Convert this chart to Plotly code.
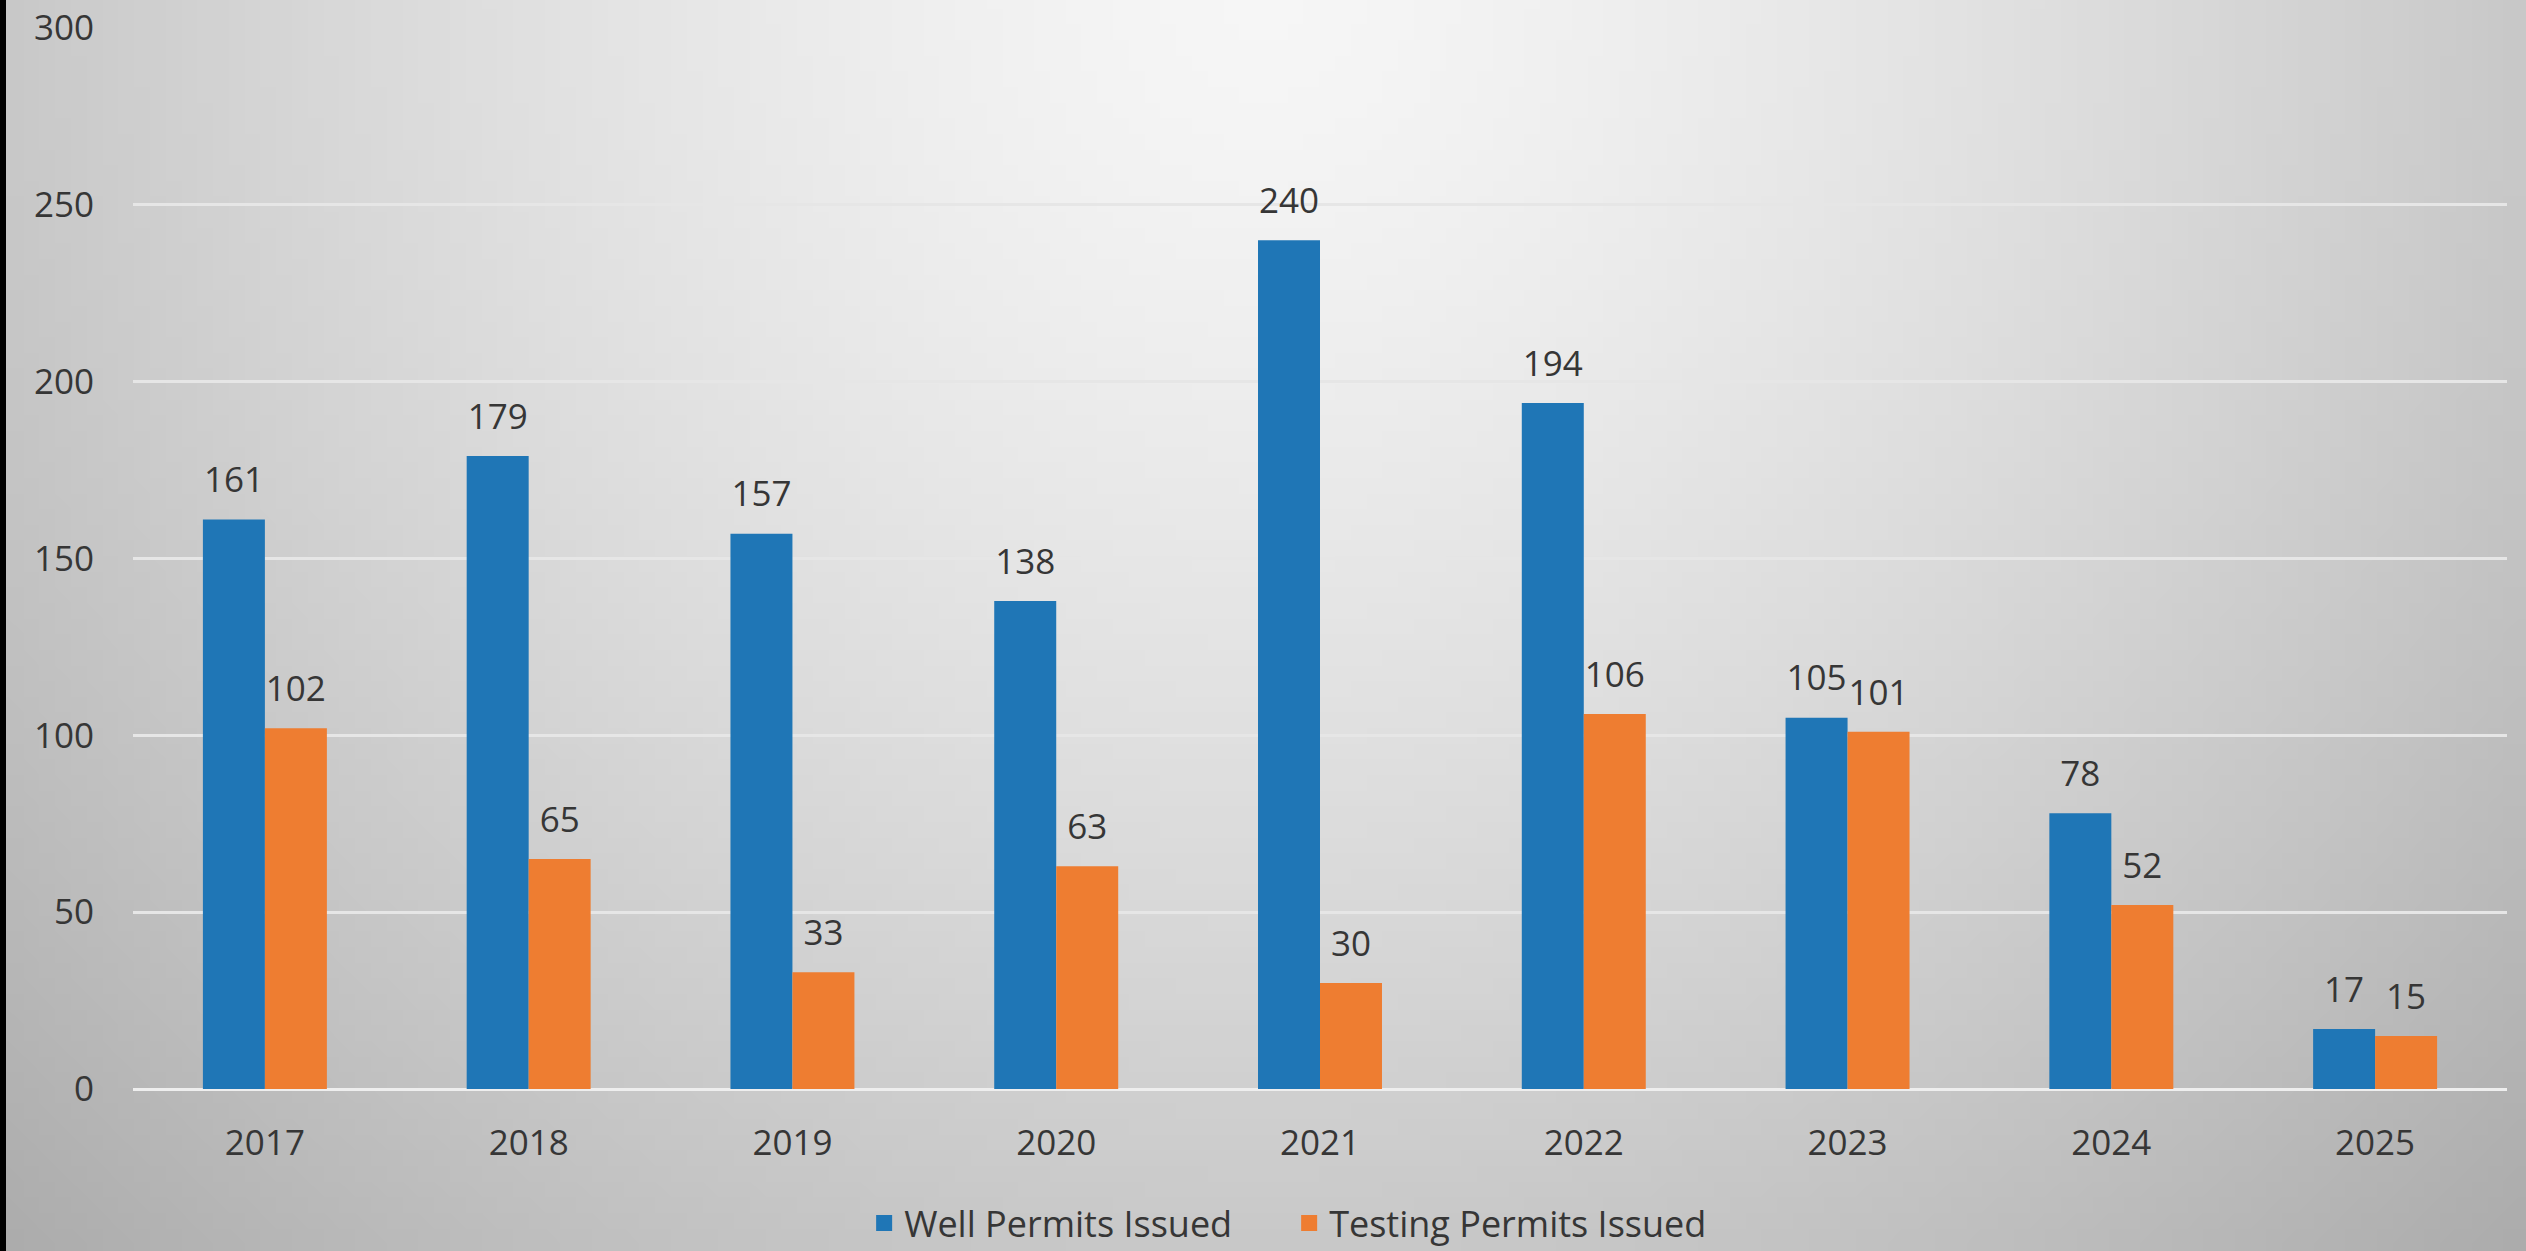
import base64
import struct
import zlib

import plotly.graph_objects as go

# ---------------- data ----------------
years = ["2017", "2018", "2019", "2020", "2021", "2022", "2023", "2024", "2025"]
well_permits = [161, 179, 157, 138, 240, 194, 105, 78, 17]
testing_permits = [102, 65, 33, 63, 30, 106, 101, 52, 15]
series_names = ["Well Permits Issued", "Testing Permits Issued"]
y_ticks = [0, 50, 100, 150, 200, 250, 300]

# ---------------- style ----------------
W, H = 2526, 1251
ML, MR, MT, MB = 133, 19, 28, 162
PW, PH = W - ML - MR, H - MT - MB
BLUE = "#1f76b6"
ORANGE = "#ee7d31"
FONT = "Open Sans"
TXT = "#363636"


def gradient_png(w=160, h=80):
    """Radial-ish grey background (decoration only)."""
    rows = []
    for j in range(h):
        fy = (j + 0.5) / h
        row = bytearray([0])
        for i in range(w):
            fx = (i + 0.5) / w
            d = (((fx - 0.5) / 0.5) ** 2 + (fy / 1.0) ** 2) ** 0.5
            v = 246 - 46 * d ** 1.4
            v = int(max(0, min(255, round(v))))
            row.append(v)
        rows.append(bytes(row))
    raw = b"".join(rows)

    def chunk(t, data):
        c = struct.pack(">I", len(data)) + t + data
        return c + struct.pack(">I", zlib.crc32(t + data) & 0xFFFFFFFF)

    png = b"\x89PNG\r\n\x1a\n"
    png += chunk(b"IHDR", struct.pack(">IIBBBBB", w, h, 8, 0, 0, 0, 0))
    png += chunk(b"IDAT", zlib.compress(raw, 9))
    png += chunk(b"IEND", b"")
    return "data:image/png;base64," + base64.b64encode(png).decode()


fig = go.Figure()

for name, vals, col in [(series_names[0], well_permits, BLUE),
                        (series_names[1], testing_permits, ORANGE)]:
    fig.add_trace(go.Bar(
        x=years, y=vals, name=name, marker=dict(color=col, line=dict(width=0)),
        offsetgroup=name, showlegend=False, hoverinfo="x+y",
    ))

# data labels, grouped the same way as the bars
for name, vals in [(series_names[0], well_permits),
                   (series_names[1], testing_permits)]:
    fig.add_trace(go.Scatter(
        x=years, y=vals, mode="markers+text", text=[str(v) for v in vals],
        textposition="top center", offsetgroup=name,
        textfont=dict(family=FONT, size=35, color=TXT),
        marker=dict(size=28, opacity=0), showlegend=False, hoverinfo="skip",
        cliponaxis=False,
    ))

# legend entries
for name, col in [(series_names[0], BLUE), (series_names[1], ORANGE)]:
    fig.add_trace(go.Scatter(
        x=[None], y=[None], mode="markers", name=name,
        marker=dict(symbol="square", size=16, color=col), showlegend=True,
    ))

fig.update_layout(
    width=W, height=H,
    margin=dict(l=ML, r=MR, t=MT, b=MB, pad=0, autoexpand=False),
    paper_bgcolor="#c8c8c8",
    plot_bgcolor="rgba(0,0,0,0)",
    barmode="group", bargap=0.53, bargroupgap=0,
    scattermode="group", scattergap=0.53,
    font=dict(family=FONT, size=35, color=TXT),
    showlegend=True,
    legend=dict(orientation="h", x=0.487, xanchor="center",
                yref="container", y=1 - 1223 / H, yanchor="middle",
                font=dict(family=FONT, size=36, color=TXT),
                bgcolor="rgba(0,0,0,0)", itemsizing="trace",
                entrywidth=380, entrywidthmode="pixels"),
    images=[dict(source=gradient_png(), xref="paper", yref="paper",
                 x=-ML / PW, y=1 + MT / PH, sizex=W / PW, sizey=H / PH,
                 xanchor="left", yanchor="top", sizing="stretch",
                 layer="below")],
    shapes=[dict(type="rect", xref="paper", yref="paper",
                 x0=-ML / PW, x1=(-ML + 6) / PW, y0=-MB / PH, y1=1 + MT / PH,
                 fillcolor="#000000", line=dict(width=0), layer="above")],
)

fig.update_xaxes(
    type="category", showgrid=False, zeroline=False, showline=False,
    ticks="", tickfont=dict(family=FONT, size=35, color=TXT),
    ticklabelstandoff=30, automargin=False,
)
fig.update_yaxes(
    range=[0, 300], tickvals=y_ticks, showgrid=True, gridcolor="#e6e6e6",
    gridwidth=3, zeroline=True, zerolinecolor="#eeeeee", zerolinewidth=3,
    showline=False, ticks="", tickfont=dict(family=FONT, size=35, color=TXT),
    ticklabelstandoff=38, automargin=False,
)

fig.write_html(
    "out.html",
    config={"displayModeBar": False},
    post_script="document.body.style.margin='0';"
                "document.body.style.overflow='hidden';",
)
